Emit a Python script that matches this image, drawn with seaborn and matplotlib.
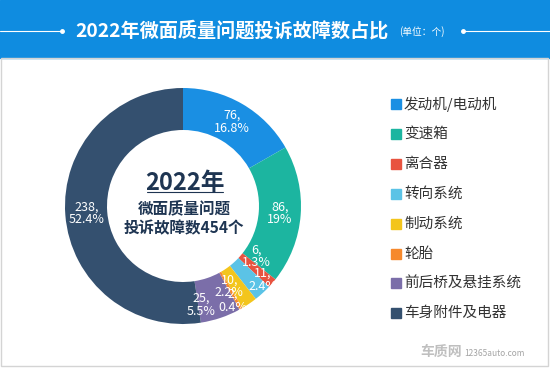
"""
Donut chart: 2022 minivan complaint fault share.
"""

import numpy as np
import matplotlib.pyplot as plt
import seaborn as sns
from matplotlib.patches import Rectangle

# Graph style
sns.set_style("white")
plt.rcParams["font.family"] = ["Noto Sans CJK SC", "DejaVu Sans"]


# =====================================================
# DATA
# =====================================================

categories = [
    "发动机/电动机",
    "变速箱",
    "离合器",
    "转向系统",
    "制动系统",
    "轮胎",
    "前后桥及悬挂系统",
    "车身附件及电器",
]
counts = [76, 86, 6, 11, 10, 2, 25, 238]
percents = [16.8, 19, 1.3, 2.4, 2.2, 0.4, 5.5, 52.4]

colors = [
    "#1a8fe3",
    "#1cb5a0",
    "#e8533f",
    "#5bc3e6",
    "#f3c51c",
    "#f6892c",
    "#7b6ea9",
    "#34506f",
]

title = "2022年微面质量问题投诉故障数占比"
unit = "(单位：个)"
center_lines = ["2022年", "微面质量问题", f"投诉故障数{sum(counts)}个"]


# =====================================================
# FIGURE
# =====================================================

W, H = 550, 368
fig = plt.figure(figsize=(W / 100, H / 100), dpi=100)
fig.patch.set_facecolor("white")


def fx(px):
    return px / W


def fy(py):
    return 1 - py / H


# header banner
banner_h = 58
fig.patches.append(Rectangle((0, fy(banner_h)), 1, banner_h / H,
                             transform=fig.transFigure, color="#0f8ce0",
                             zorder=0))
# light frame around the white area
fig.patches.append(Rectangle((fx(1), fy(366)), fx(547), (366 - banner_h) / H,
                             transform=fig.transFigure, fill=False,
                             edgecolor="#d4d4d4", linewidth=1, zorder=0))

# title with line decorations
fig.text(fx(232), fy(31), title, color="white", fontsize=13.8,
         fontweight="bold", ha="center", va="center")
fig.text(fx(422), fy(32), unit, color="white", fontsize=7,
         ha="center", va="center")
fig.lines.append(plt.Line2D([0, fx(62)], [fy(31), fy(31)],
                            transform=fig.transFigure, color="white",
                            linewidth=0.8))
fig.lines.append(plt.Line2D([fx(463), 1], [fy(31), fy(31)],
                            transform=fig.transFigure, color="white",
                            linewidth=0.8))
fig.lines.append(plt.Line2D([fx(62), fx(463)], [fy(31), fy(31)],
                            transform=fig.transFigure, color="white",
                            linestyle="none", marker="o", markersize=2.5))


# =====================================================
# DONUT
# =====================================================

cx, cy, r_out, r_in = 183, 206, 118, 76
ax = fig.add_axes([fx(cx - r_out), fy(cy + r_out),
                   2 * r_out / W, 2 * r_out / H])
ring = 1 - r_in / r_out

wedges, _ = ax.pie(
    counts,
    colors=colors,
    startangle=90,
    counterclock=False,
    radius=1,
    wedgeprops=dict(width=ring, edgecolor="none"),
)
ax.set_xlim(-1, 1)
ax.set_ylim(-1, 1)
ax.set_aspect("equal")
ax.axis("off")

# small-slice label nudges in pixels (dx right, dy down), like the original
nudges = {2: (0, -13), 3: (14, 2), 4: (-8, 0), 5: (2, 10), 6: (-13, 7)}

label_r = 1 - ring / 2
for i, (w, c, p) in enumerate(zip(wedges, counts, percents)):
    ang = np.deg2rad((w.theta1 + w.theta2) / 2)
    dx, dy = nudges.get(i, (0, 0))
    x = label_r * np.cos(ang) + dx / r_out
    y = label_r * np.sin(ang) - dy / r_out
    ax.text(x, y, f"{c},\n{p:g}%", color="white", fontsize=9,
            ha="center", va="center", linespacing=1.0)

# center text
fig.text(fx(185), fy(183), center_lines[0], color="#1e3552",
         fontsize=17, fontweight="bold", ha="center", va="center")
fig.lines.append(plt.Line2D([fx(147), fx(223)], [fy(192), fy(192)],
                            transform=fig.transFigure, color="#1e3552",
                            linewidth=0.8))
fig.text(fx(184), fy(208), center_lines[1], color="#1e3552",
         fontsize=11.2, fontweight="bold", ha="center", va="center")
fig.text(fx(184), fy(228), center_lines[2], color="#1e3552",
         fontsize=11.2, fontweight="bold", ha="center", va="center")


# =====================================================
# LEGEND
# =====================================================

for i, (name, col) in enumerate(zip(categories, colors)):
    y = 104 + i * 29.9
    fig.patches.append(Rectangle((fx(391), fy(y + 5)), fx(10), 10 / H,
                                 transform=fig.transFigure, color=col))
    fig.text(fx(404), fy(y), name, color="#333333", fontsize=10.5,
             ha="left", va="center")


# watermark
fig.text(fx(441), fy(352), "车质网", color="#b0b0b0", fontsize=10,
         fontweight="bold", ha="center", va="center", alpha=0.8)
fig.text(fx(464), fy(353), "12365auto.com", color="#9a9a9a", fontsize=6,
         ha="left", va="center", alpha=0.9)

fig.savefig("out.png", dpi=100)
plt.close(fig)
